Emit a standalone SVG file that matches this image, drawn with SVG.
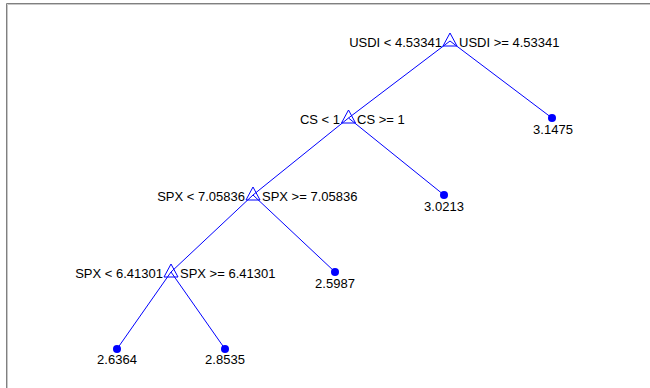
<svg xmlns="http://www.w3.org/2000/svg" width="650" height="388" viewBox="0 0 650 388">
  <defs>
    <style>
      .edge { stroke: #0000ff; stroke-width: 1; fill: none; }
      .split { stroke: #0000ff; stroke-width: 1; fill: none; }
      .leaf { fill: #0000ff; }
      text { font-family: "Liberation Sans", Arial, sans-serif; font-size: 13px; fill: #000; }
      .l { text-anchor: end; }
      .r { text-anchor: start; }
      .c { text-anchor: middle; }
    </style>
    <path id="tri" d="M0,-8 L7,5 L-7,5 Z"/>
  </defs>
  <rect width="650" height="388" fill="#fff"/>
  <!-- axes frame (top and left edges) -->
  <path d="M6.5,388 V3.5 H650" stroke="#808080" stroke-width="1" fill="none"/>
  <path d="M7.5,388 V4.5 H650" stroke="#c8c8c8" stroke-width="1" fill="none"/>

  <g id="connectors">
    <line class="edge" x1="450" y1="41" x2="348.5" y2="118"/>
    <line class="edge" x1="450" y1="41" x2="552" y2="118"/>
    <line class="edge" x1="348.5" y1="118" x2="253" y2="195"/>
    <line class="edge" x1="348.5" y1="118" x2="444" y2="195"/>
    <line class="edge" x1="253" y1="195" x2="171" y2="272"/>
    <line class="edge" x1="253" y1="195" x2="335" y2="272"/>
    <line class="edge" x1="171" y1="272" x2="117" y2="349"/>
    <line class="edge" x1="171" y1="272" x2="225" y2="349"/>
  </g>

  <g id="node-usdi">
    <use href="#tri" class="split" x="450" y="41"/>
    <text class="l" x="442" y="47">USDI &lt; 4.53341</text>
    <text class="r" x="459" y="47">USDI &gt;= 4.53341</text>
  </g>
  <g id="node-cs">
    <use href="#tri" class="split" x="348.5" y="118"/>
    <text class="l" x="340" y="124">CS &lt; 1</text>
    <text class="r" x="357" y="124">CS &gt;= 1</text>
  </g>
  <g id="node-spx1">
    <use href="#tri" class="split" x="253" y="195"/>
    <text class="l" x="245" y="201">SPX &lt; 7.05836</text>
    <text class="r" x="262" y="201">SPX &gt;= 7.05836</text>
  </g>
  <g id="node-spx2">
    <use href="#tri" class="split" x="171" y="272"/>
    <text class="l" x="163" y="278">SPX &lt; 6.41301</text>
    <text class="r" x="180" y="278">SPX &gt;= 6.41301</text>
  </g>

  <g id="leaf-1">
    <circle class="leaf" cx="552" cy="118" r="4"/>
    <text class="c" x="553" y="134">3.1475</text>
  </g>
  <g id="leaf-2">
    <circle class="leaf" cx="444" cy="195" r="4"/>
    <text class="c" x="444" y="211">3.0213</text>
  </g>
  <g id="leaf-3">
    <circle class="leaf" cx="335" cy="272" r="4"/>
    <text class="c" x="335" y="288">2.5987</text>
  </g>
  <g id="leaf-4">
    <circle class="leaf" cx="117" cy="349" r="4"/>
    <text class="c" x="117" y="364">2.6364</text>
  </g>
  <g id="leaf-5">
    <circle class="leaf" cx="225" cy="349" r="4"/>
    <text class="c" x="225" y="364">2.8535</text>
  </g>
</svg>
